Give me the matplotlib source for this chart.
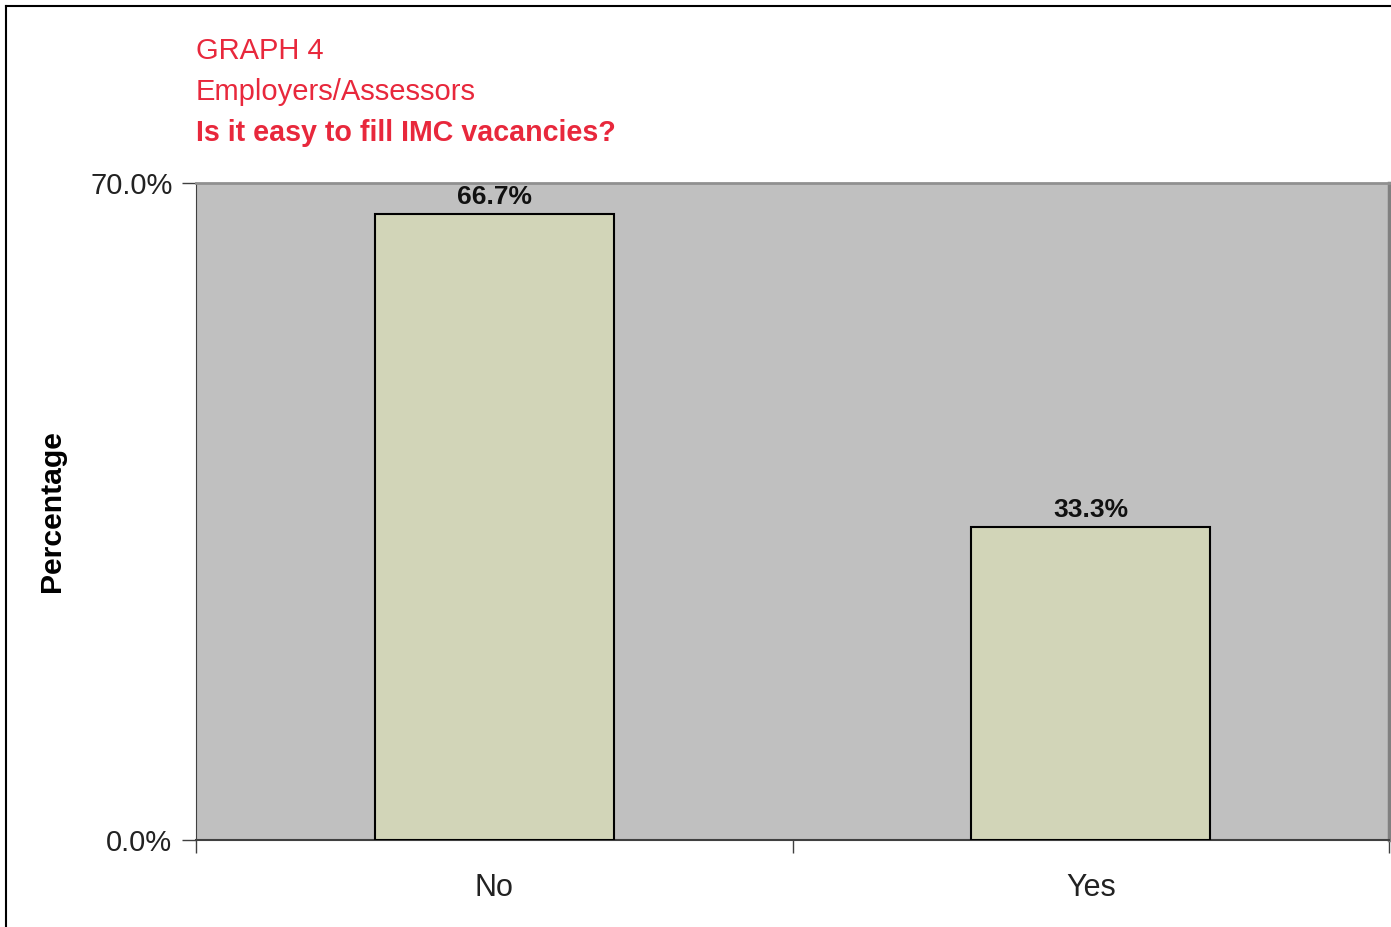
import matplotlib
matplotlib.use("Agg")
import matplotlib.pyplot as plt
from matplotlib.lines import Line2D
from matplotlib.ticker import FuncFormatter, FixedLocator

# survey answers
categories = ["No", "Yes"]
percent = [66.7, 33.3]

title_lines = ["GRAPH 4", "Employers/Assessors", "Is it easy to fill IMC vacancies?"]

plt.rcParams['font.family'] = ['Liberation Sans', 'DejaVu Sans']

red = "#E8283C"

fig = plt.figure(figsize=(13.91, 9.27), dpi=100)
ax = fig.add_axes([196/1391, 1 - 840/927, 1193/1391, 657/927])

ax.set_facecolor("#C0C0C0")
x = list(range(len(categories)))
bars = ax.bar(x, percent, width=0.4, color="#D2D5B8", edgecolor="black", linewidth=1.5, zorder=3)

for xi, v in zip(x, percent):
    ax.text(xi, v + 0.55, f"{v:.1f}%", ha="center", va="bottom", fontsize=19,
            fontweight="bold", color="#111111", zorder=4)

ax.set_xlim(-0.5, len(categories) - 0.5)
ax.set_ylim(0, 70)
ax.set_yticks([0, 70])
ax.yaxis.set_major_formatter(FuncFormatter(lambda v, p: f"{v:.1f}%"))
ax.tick_params(axis="y", labelsize=21, length=10, width=1, color="#404040", pad=7, labelcolor="#222222")

# category labels between boundary ticks
ax.xaxis.set_major_locator(FixedLocator([-0.5, 0.5, 1.5]))
ax.set_xticklabels([])
ax.set_xticks(x, minor=True)
ax.set_xticklabels(categories, minor=True)
ax.tick_params(axis="x", which="major", length=9, width=1, color="#404040")
ax.tick_params(axis="x", which="minor", length=0, labelsize=22, pad=24, labelcolor="#222222")

ax.spines["left"].set_color("#404040")
ax.spines["bottom"].set_color("#404040")
ax.spines["bottom"].set_linewidth(1.5)
ax.spines["top"].set_color("#909090")
ax.spines["top"].set_linewidth(2)
ax.spines["right"].set_color("#808080")
ax.spines["right"].set_linewidth(2.5)

ax.set_ylabel("Percentage", fontsize=21.7, fontweight="bold", labelpad=0)
ax.yaxis.set_label_coords(-130/1193, 0.5)

# heading block in red
ys = [51, 92, 133]
for i, (t, y) in enumerate(zip(title_lines, ys)):
    fig.text(196/1391, 1 - y/927, t, color=red, fontsize=21 if i < 2 else 20.6,
             va="center", ha="left", fontweight="bold" if i == 2 else "normal")

# outer frame (left and top edges)
fig.add_artist(Line2D([5.5/1391, 5.5/1391], [0, 1 - 6/927], color="black", linewidth=1.5))
fig.add_artist(Line2D([5.5/1391, 1], [1 - 6/927, 1 - 6/927], color="black", linewidth=1.5))

fig.savefig("out.png", dpi=100)
